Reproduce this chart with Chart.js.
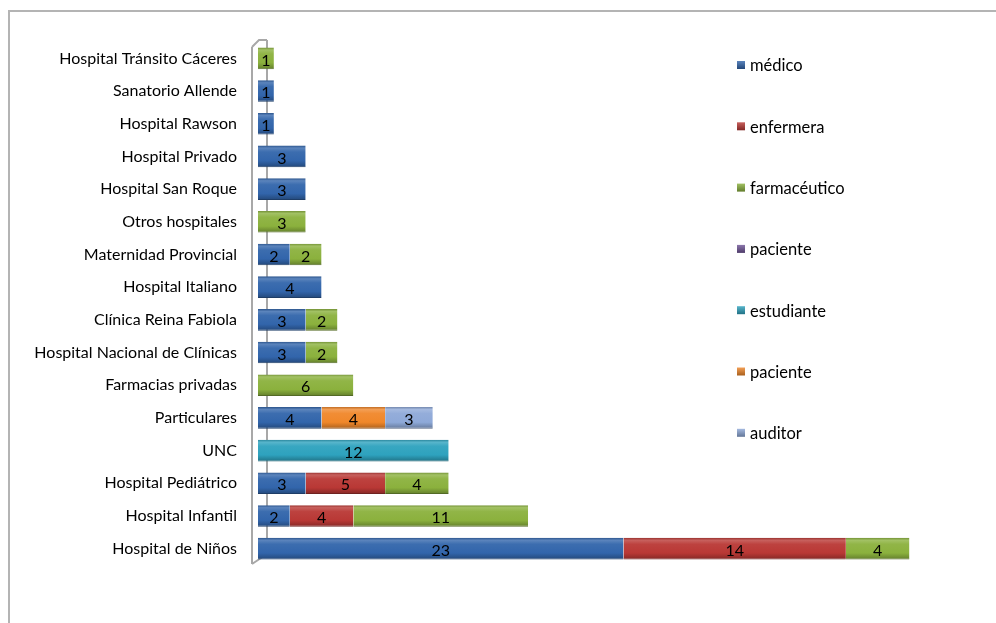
<!DOCTYPE html>
<html>
<head>
<meta charset="utf-8">
<script src="https://cdn.jsdelivr.net/npm/chart.js@4/dist/chart.umd.min.js"></script>
<style>
  html, body { margin: 0; padding: 0; background: #fff; }
  #wrap { position: relative; width: 996px; height: 623px; overflow: hidden; }
  #frame { position: absolute; left: 8px; top: 10px; width: 1000px; height: 620px;
           border-top: 2px solid #b4b4b4; border-left: 2px solid #b4b4b4; box-sizing: border-box; pointer-events: none; }
  canvas { position: absolute; left: 0; top: 0; }
</style>
</head>
<body>
<div id="wrap">
  <canvas id="c" width="996" height="623"></canvas>
  <div id="frame"></div>
</div>
<script>
const categories = [
  "Hospital Tránsito Cáceres", "Sanatorio Allende", "Hospital Rawson", "Hospital Privado",
  "Hospital San Roque", "Otros hospitales", "Maternidad Provincial", "Hospital Italiano",
  "Clínica Reina Fabiola", "Hospital Nacional de Clínicas", "Farmacias privadas",
  "Particulares", "UNC", "Hospital Pediátrico", "Hospital Infantil", "Hospital de Niños"
];
const seriesNames = ["médico", "enfermera", "farmacéutico", "paciente", "estudiante", "paciente", "auditor"];
const medico       = [null, 1, 1, 3, 3, null, 2, 4, 3, 3, null, 4, null, 3, 2, 23];
const enfermera    = [null, null, null, null, null, null, null, null, null, null, null, null, null, 5, 4, 14];
const farmaceutico = [1, null, null, null, null, 3, 2, null, 2, 2, 6, null, null, 4, 11, 4];
const paciente1    = [null, null, null, null, null, null, null, null, null, null, null, null, null, null, null, null];
const estudiante   = [null, null, null, null, null, null, null, null, null, null, null, null, 12, null, null, null];
const paciente2    = [null, null, null, null, null, null, null, null, null, null, null, 4, null, null, null, null];
const auditor      = [null, null, null, null, null, null, null, null, null, null, null, 3, null, null, null, null];
const seriesValues = [medico, enfermera, farmaceutico, paciente1, estudiante, paciente2, auditor];
const seriesColors = ["#3265ab", "#b93835", "#8bb13d", "#6f5597", "#2ea2be", "#f0872a", "#8ea9d8"];

function shade(hex, f) {
  const n = parseInt(hex.slice(1), 16);
  let r = (n >> 16) & 255, g = (n >> 8) & 255, b = n & 255;
  if (f >= 0) { r += (255 - r) * f; g += (255 - g) * f; b += (255 - b) * f; }
  else { r *= (1 + f); g *= (1 + f); b *= (1 + f); }
  return "rgb(" + Math.round(r) + "," + Math.round(g) + "," + Math.round(b) + ")";
}

const FONT = "Lato, 'Open Sans', sans-serif";

function barGradient(color) {
  return function (ctx) {
    const chart = ctx.chart;
    const y = chart.scales && chart.scales.y;
    if (!y || ctx.dataIndex === undefined) return color;
    const cy = y.getPixelForValue(ctx.dataIndex);
    if (!isFinite(cy)) return color;
    const g = chart.ctx.createLinearGradient(0, cy - 11, 0, cy + 11);
    g.addColorStop(0, shade(color, -0.2));
    g.addColorStop(0.12, shade(color, 0.2));
    g.addColorStop(0.3, shade(color, 0.05));
    g.addColorStop(0.7, color);
    g.addColorStop(1, shade(color, -0.3));
    return g;
  };
}

const datasets = seriesNames.map((name, i) => ({
  label: name,
  data: seriesValues[i],
  backgroundColor: barGradient(seriesColors[i]),
  borderColor: shade(seriesColors[i], -0.4),
  borderWidth: { top: 0, bottom: 1, left: 0, right: 0 },
  borderSkipped: false,
  barPercentage: 0.66,
  categoryPercentage: 1.0
}));

const wallPlugin = {
  id: 'wall',
  beforeDatasetsDraw(chart) {
    const { ctx, chartArea: a } = chart;
    ctx.save();
    ctx.strokeStyle = '#a8a8a8';
    ctx.lineWidth = 2;
    ctx.beginPath();
    ctx.moveTo(a.left + 9, a.top - 2);
    ctx.lineTo(a.left + 9, a.bottom - 11);
    ctx.moveTo(a.left - 6, a.top + 5);
    ctx.lineTo(a.left - 6, a.bottom - 1);
    ctx.moveTo(a.left - 6, a.top + 5);
    ctx.lineTo(a.left + 1, a.top - 2);
    ctx.lineTo(a.left + 9, a.top - 2);
    ctx.moveTo(a.left - 6, a.bottom - 1);
    ctx.lineTo(a.left + 9, a.bottom - 11);
    ctx.stroke();
    ctx.restore();
  }
};

const labelPlugin = {
  id: 'segLabels',
  afterDatasetsDraw(chart) {
    const ctx = chart.ctx;
    ctx.save();
    ctx.font = "16px " + FONT;
    ctx.fillStyle = '#000';
    ctx.textAlign = 'center';
    ctx.textBaseline = 'middle';
    chart.data.datasets.forEach((ds, di) => {
      const meta = chart.getDatasetMeta(di);
      meta.data.forEach((el, i) => {
        const v = ds.data[i];
        if (v === null || v === undefined) return;
        const cx = (el.x + el.base) / 2;
        ctx.fillText(String(v), cx, el.y + 2);
      });
    });
    ctx.restore();
  }
};

const legendPlugin = {
  id: 'sideLegend',
  afterDraw(chart) {
    const ctx = chart.ctx;
    ctx.save();
    ctx.font = "16.5px " + FONT;
    ctx.textBaseline = 'middle';
    ctx.textAlign = 'left';
    chart.data.datasets.forEach((ds, i) => {
      const y = 65 + i * 61.3;
      const col = seriesColors[i];
      const g = ctx.createLinearGradient(0, y - 4, 0, y + 4);
      g.addColorStop(0, shade(col, 0.2));
      g.addColorStop(1, shade(col, -0.3));
      ctx.fillStyle = g;
      ctx.fillRect(737, y - 4, 8, 8);
      ctx.fillStyle = '#000';
      ctx.fillText(ds.label, 750, y + 1);
    });
    ctx.restore();
  }
};

new Chart(document.getElementById('c'), {
  type: 'bar',
  data: { labels: categories, datasets },
  options: {
    indexAxis: 'y',
    responsive: false,
    animation: false,
    layout: { padding: { top: 42, bottom: 58, left: 0, right: 23 } },
    plugins: { legend: { display: false }, tooltip: { enabled: false } },
    scales: {
      x: { stacked: true, display: false, min: 0, max: 45 },
      y: {
        stacked: true,
        grid: { display: false, drawTicks: false },
        border: { display: false },
        ticks: { color: '#000', font: { family: FONT, size: 16 }, padding: 21 },
        afterFit(scale) { scale.width = 258; }
      }
    }
  },
  plugins: [wallPlugin, labelPlugin, legendPlugin]
});
</script>
</body>
</html>
